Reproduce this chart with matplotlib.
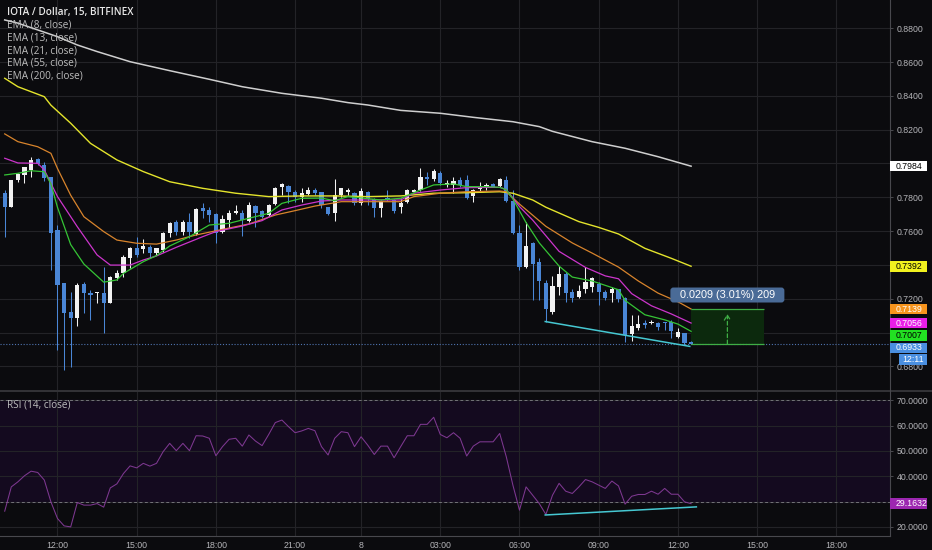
import numpy as np
import matplotlib
matplotlib.use("Agg")
import matplotlib.pyplot as plt
from matplotlib.patches import Rectangle, FancyBboxPatch
from matplotlib.lines import Line2D
from matplotlib.transforms import IdentityTransform

plt.rcParams['font.family'] = ['Liberation Sans', 'DejaVu Sans']

# ---------------- data ----------------
opens = [0.7824, 0.7744, 0.7902, 0.7932, 0.7962, 0.8027, 0.7991, 0.7922, 0.7607, 0.7291,
         0.7123, 0.7084, 0.7286, 0.7232, 0.7232, 0.7232, 0.7177, 0.7321, 0.7354, 0.7439,
         0.7502, 0.7494, 0.7508, 0.7469, 0.7488, 0.7587, 0.7656, 0.7597, 0.7656, 0.7583,
         0.7735, 0.7725, 0.7701, 0.7597, 0.7666, 0.7705, 0.7709, 0.7662, 0.7750, 0.7719,
         0.7695, 0.7758, 0.7859, 0.7867, 0.7833, 0.7804, 0.7818, 0.7843, 0.7833, 0.7744,
         0.7705, 0.7814, 0.7833, 0.7827, 0.7764, 0.7833, 0.7788, 0.7735, 0.7798, 0.7784,
         0.7744, 0.7774, 0.7833, 0.7843, 0.7922, 0.7907, 0.7942, 0.7873, 0.7873, 0.7902,
         0.7902, 0.7810, 0.7847, 0.7853, 0.7877, 0.7867, 0.7902, 0.7780, 0.7587, 0.7390,
         0.7528, 0.7419, 0.7295, 0.7123, 0.7271, 0.7346, 0.7241, 0.7212, 0.7258, 0.7271,
         0.7287, 0.7241, 0.7236, 0.7256, 0.7203, 0.6991, 0.7025, 0.7059, 0.7055, 0.7055,
         0.7065, 0.7065, 0.6975, 0.6999, 0.6946]
highs = [0.7843, 0.7902, 0.7945, 0.7981, 0.8040, 0.8035, 0.8011, 0.7922, 0.7636, 0.7291,
         0.7241, 0.7293, 0.7301, 0.7252, 0.7241, 0.7390, 0.7334, 0.7370, 0.7459, 0.7504,
         0.7567, 0.7551, 0.7518, 0.7502, 0.7597, 0.7656, 0.7666, 0.7666, 0.7705, 0.7735,
         0.7768, 0.7744, 0.7705, 0.7695, 0.7725, 0.7754, 0.7725, 0.7774, 0.7754, 0.7725,
         0.7758, 0.7863, 0.7883, 0.7873, 0.7843, 0.7853, 0.7863, 0.7853, 0.7833, 0.7744,
         0.7907, 0.7857, 0.7853, 0.7833, 0.7853, 0.7837, 0.7794, 0.7784, 0.7843, 0.7790,
         0.7794, 0.7847, 0.7847, 0.7972, 0.7952, 0.7965, 0.7956, 0.7902, 0.7922, 0.7922,
         0.7932, 0.7847, 0.7893, 0.7883, 0.7883, 0.7912, 0.7926, 0.7843, 0.7636, 0.7656,
         0.7537, 0.7439, 0.7311, 0.7334, 0.7394, 0.7360, 0.7260, 0.7281, 0.7390, 0.7330,
         0.7301, 0.7252, 0.7271, 0.7260, 0.7212, 0.7104, 0.7104, 0.7075, 0.7075, 0.7065,
         0.7065, 0.7075, 0.7025, 0.6999, 0.6950]
lows = [0.7567, 0.7744, 0.7890, 0.7886, 0.7922, 0.7991, 0.7898, 0.7370, 0.6897, 0.6778,
        0.6798, 0.7039, 0.7114, 0.7075, 0.7173, 0.6999, 0.7177, 0.7311, 0.7330, 0.7380,
        0.7445, 0.7469, 0.7439, 0.7459, 0.7478, 0.7567, 0.7577, 0.7577, 0.7557, 0.7577,
        0.7676, 0.7656, 0.7531, 0.7587, 0.7617, 0.7700, 0.7571, 0.7656, 0.7626, 0.7676,
        0.7690, 0.7754, 0.7814, 0.7764, 0.7774, 0.7774, 0.7814, 0.7814, 0.7735, 0.7695,
        0.7662, 0.7804, 0.7814, 0.7754, 0.7754, 0.7754, 0.7685, 0.7685, 0.7780, 0.7705,
        0.7705, 0.7768, 0.7830, 0.7839, 0.7873, 0.7898, 0.7873, 0.7859, 0.7824, 0.7863,
        0.7790, 0.7774, 0.7833, 0.7843, 0.7859, 0.7863, 0.7774, 0.7583, 0.7370, 0.7380,
        0.7193, 0.7193, 0.7065, 0.7110, 0.7222, 0.7183, 0.7183, 0.7203, 0.7236, 0.7241,
        0.7163, 0.7193, 0.7183, 0.7183, 0.6946, 0.6952, 0.7015, 0.7025, 0.7051, 0.7015,
        0.7015, 0.6966, 0.6966, 0.6925, 0.6930]
closes = [0.7744, 0.7902, 0.7938, 0.7981, 0.8021, 0.7997, 0.7912, 0.7587, 0.7281, 0.7114,
          0.7084, 0.7281, 0.7232, 0.7222, 0.7238, 0.7173, 0.7330, 0.7354, 0.7445, 0.7502,
          0.7459, 0.7512, 0.7469, 0.7502, 0.7591, 0.7650, 0.7593, 0.7656, 0.7597, 0.7729,
          0.7721, 0.7695, 0.7587, 0.7670, 0.7709, 0.7717, 0.7666, 0.7753, 0.7709, 0.7682,
          0.7754, 0.7857, 0.7877, 0.7830, 0.7804, 0.7827, 0.7843, 0.7824, 0.7754, 0.7701,
          0.7814, 0.7853, 0.7843, 0.7768, 0.7839, 0.7788, 0.7735, 0.7780, 0.7784, 0.7719,
          0.7768, 0.7843, 0.7843, 0.7918, 0.7908, 0.7957, 0.7883, 0.7886, 0.7898, 0.7873,
          0.7794, 0.7843, 0.7867, 0.7873, 0.7863, 0.7907, 0.7780, 0.7587, 0.7390, 0.7514,
          0.7404, 0.7307, 0.7137, 0.7275, 0.7346, 0.7232, 0.7203, 0.7248, 0.7301, 0.7321,
          0.7241, 0.7203, 0.7256, 0.7197, 0.6985, 0.7039, 0.7051, 0.7045, 0.7065, 0.7035,
          0.7055, 0.7011, 0.7005, 0.6936, 0.6933]

ema8_idx = [0, 2, 4, 6, 7, 8, 10, 12, 15, 17, 18, 21, 23, 25, 28, 31, 34, 37, 40, 42,
            45, 48, 50, 52, 57, 60, 63, 65, 68, 70, 73, 75, 76, 77, 79, 81, 84, 86, 89, 93,
            94, 97, 100, 102, 104]
ema8_val = [0.7932, 0.7942, 0.7957, 0.7951, 0.7880, 0.7740, 0.7520, 0.7405, 0.7298, 0.7311,
            0.7350, 0.7419, 0.7455, 0.7512, 0.7567, 0.7636, 0.7646, 0.7676, 0.7705, 0.7764,
            0.7794, 0.7795, 0.7780, 0.7804, 0.7784, 0.7794, 0.7843, 0.7873, 0.7879, 0.7863,
            0.7863, 0.7859, 0.7845, 0.7790, 0.7650, 0.7530, 0.7393, 0.7328, 0.7305, 0.7253,
            0.7190, 0.7105, 0.7075, 0.7050, 0.7007]
ema13_idx = [0, 2, 5, 6, 8, 11, 14, 16, 19, 21, 23, 26, 30, 32, 36, 39, 42, 45, 48, 51,
             55, 60, 62, 66, 70, 75, 76, 78, 80, 84, 88, 91, 93, 95, 98, 101, 104]
ema13_val = [0.8031, 0.8003, 0.8001, 0.7962, 0.7804, 0.7626, 0.7459, 0.7399, 0.7399, 0.7429,
             0.7453, 0.7504, 0.7567, 0.7597, 0.7630, 0.7662, 0.7725, 0.7754, 0.7778, 0.7784,
             0.7784, 0.7784, 0.7824, 0.7843, 0.7857, 0.7859, 0.7845, 0.7745, 0.7665, 0.7480,
             0.7385, 0.7335, 0.7318, 0.7230, 0.7158, 0.7110, 0.7056]
ema21_idx = [0, 2, 5, 7, 8, 10, 12, 15, 17, 20, 23, 26, 29, 33, 37, 41, 44, 47, 51, 55,
             60, 62, 66, 70, 75, 76, 78, 82, 86, 89, 93, 96, 99, 102, 104]
ema21_val = [0.8175, 0.8129, 0.8099, 0.8060, 0.7970, 0.7812, 0.7685, 0.7597, 0.7547, 0.7528,
             0.7523, 0.7547, 0.7577, 0.7610, 0.7642, 0.7695, 0.7721, 0.7748, 0.7774, 0.7774,
             0.7774, 0.7804, 0.7824, 0.7833, 0.7837, 0.7833, 0.7760, 0.7628, 0.7530, 0.7470,
             0.7387, 0.7305, 0.7233, 0.7182, 0.7139]
ema55_idx = [0, 2, 6, 7, 10, 13, 17, 21, 25, 30, 35, 40, 45, 50, 55, 60, 65, 70, 75, 77,
             80, 82, 87, 90, 93, 97, 101, 104]
ema55_val = [0.8504, 0.8454, 0.8395, 0.8345, 0.8238, 0.8119, 0.8021, 0.7952, 0.7892, 0.7853,
             0.7824, 0.7804, 0.7808, 0.7808, 0.7804, 0.7808, 0.7824, 0.7827, 0.7833, 0.7824,
             0.7784, 0.7741, 0.7656, 0.7622, 0.7583, 0.7498, 0.7439, 0.7392]
ema200_idx = [0, 2, 5, 8, 11, 14, 19, 25, 31, 36, 42, 48, 52, 55, 60, 66, 71, 77, 81, 83,
              89, 94, 99, 104]
ema200_val = [0.8849, 0.8830, 0.8790, 0.8750, 0.8701, 0.8662, 0.8602, 0.8549, 0.8498, 0.8454,
              0.8415, 0.8386, 0.8360, 0.8346, 0.8314, 0.8297, 0.8273, 0.8247, 0.8218, 0.8190,
              0.8129, 0.8090, 0.8040, 0.7984]

rsi = [26.2, 35.8, 37.8, 40.2, 42.0, 41.5, 38.5, 29.9, 23.3, 20.4,
       20.0, 29.6, 28.6, 28.6, 29.2, 27.8, 35.4, 37.0, 41.1, 44.1,
       43.3, 45.1, 44.0, 45.1, 49.7, 53.0, 50.1, 53.0, 50.1, 56.0,
       55.9, 55.0, 48.1, 51.7, 54.6, 55.0, 51.9, 56.3, 53.9, 52.1,
       56.5, 61.2, 62.2, 59.6, 57.2, 57.9, 58.9, 58.0, 51.7, 48.4,
       55.0, 57.6, 57.2, 51.7, 55.6, 52.3, 48.6, 51.9, 51.9, 47.3,
       51.7, 56.0, 56.0, 60.5, 60.5, 63.3, 56.5, 55.2, 57.2, 55.0,
       48.0, 51.9, 53.6, 53.6, 53.6, 56.9, 47.7, 36.5, 26.6, 35.8,
       32.5, 29.2, 24.9, 32.5, 37.2, 34.1, 33.2, 35.8, 38.7, 37.8,
       36.5, 35.2, 38.1, 36.2, 29.0, 32.1, 32.8, 32.8, 34.1, 32.9,
       35.2, 32.9, 32.9, 29.9, 29.1632]

tick_idx = [8, 20, 32, 44, 54, 66, 78, 90, 102, 114, 126]
tick_labels = ['12:00', '15:00', '18:00', '21:00', '8', '03:00', '06:00', '09:00',
               '12:00', '15:00', '18:00']
price_ticks = [0.68, 0.70, 0.72, 0.74, 0.76, 0.78, 0.80, 0.82, 0.84, 0.86, 0.88]
rsi_ticks = [20, 30, 40, 50, 60, 70]

price_trend_x = [81.9, 103.8]
price_trend_y = [0.7065, 0.6918]
rsi_trend_x = [81.9, 104.8]
rsi_trend_y = [24.7, 27.9]

measure_bars = [104, 115]
measure_prices = [0.6933, 0.7142]
countdown = '12:11'

title = 'IOTA / Dollar, 15, BITFINEX'
legend_items = ['EMA (8, close)', 'EMA (13, close)', 'EMA (21, close)',
                'EMA (55, close)', 'EMA (200, close)']

# ---------------- style ----------------
W, H, DPI = 932, 550, 100
BG = '#0b0b0e'
GRID = '#232327'
AXC = '#b4b4b8'
UP = '#f2f2f2'
DOWN = '#4a86d6'
C8, C13, C21, C55, C200 = '#35c435', '#cc35cc', '#d8842c', '#e4e42c', '#cfcfcf'
LEG_FONT = ['Open Sans', 'DejaVu Sans']

fig = plt.figure(figsize=(W / DPI, H / DPI), dpi=DPI, facecolor=BG)
ax = fig.add_axes([0, 1 - 390 / H, 890 / W, 390 / H])
ax2 = fig.add_axes([0, 1 - 536 / H, 890 / W, (536 - 392) / H])

for a in (ax, ax2):
    a.set_facecolor(BG)
    for s in a.spines.values():
        s.set_visible(False)
    a.set_xlim(-0.712, 134.14)
    a.set_xticks(tick_idx)
    a.grid(True, color=GRID, lw=0.8)
    a.set_axisbelow(True)
    a.yaxis.tick_right()
    a.tick_params(axis='y', length=2.5, width=0.6, color='#55555a',
                  labelcolor=AXC, labelsize=6.3, pad=2.5)

ax.tick_params(axis='x', length=0, labelbottom=False)
ax2.tick_params(axis='x', length=0, labelcolor=AXC, labelsize=6.3, pad=3.5)
ax2.set_xticklabels(tick_labels)

ax.set_ylim(0.6660, 0.8967)
ax2.set_ylim(16.40, 73.28)
ax.set_yticks(price_ticks)
ax2.set_yticks(rsi_ticks)

ident = IdentityTransform()


def disp(a, xv, yv):
    return a.transData.transform((xv, yv))


# candles
o = np.array(opens); h = np.array(highs); l = np.array(lows); c = np.array(closes)
x = np.arange(len(c))
cols = np.where(c >= o, UP, DOWN)
ax.vlines(x, l, h, colors=cols, lw=0.75, zorder=3)
ax.bar(x, np.maximum(np.abs(c - o), 0.0005), bottom=np.minimum(o, c), width=0.62,
       color=cols, linewidth=0, zorder=4)

# EMAs
ax.plot(ema200_idx, ema200_val, color=C200, lw=1.1, zorder=5)
ax.plot(ema55_idx, ema55_val, color=C55, lw=1.0, zorder=5)
ax.plot(ema21_idx, ema21_val, color=C21, lw=0.9, zorder=5)
ax.plot(ema13_idx, ema13_val, color=C13, lw=0.9, zorder=5)
ax.plot(ema8_idx, ema8_val, color=C8, lw=0.9, zorder=5)

# current price line
ax.axhline(c[-1], color='#4f74b0', lw=0.8, ls=(0, (1, 1.6)), zorder=2)

# trend line
ax.plot(price_trend_x, price_trend_y, color='#46c8d2', lw=1.1, zorder=6)

# measure box
mx0, mx1 = measure_bars
mlo, mhi = measure_prices
ax.add_patch(Rectangle((mx0, mlo), mx1 - mx0, mhi - mlo, fc='#0c290d', ec='none', zorder=1.5))
ax.hlines([mlo, mhi], mx0, mx1, color='#3fae45', lw=0.9, zorder=6)
cxm = (mx0 + mx1) / 2
ax.annotate('', xy=(cxm, mhi), xytext=(cxm, mlo),
            arrowprops=dict(arrowstyle='->,head_length=0.35,head_width=0.22', color='#3fae45',
                            lw=0.9, ls=(0, (3, 2)), shrinkA=0, shrinkB=4), zorder=6)

dx, dy = disp(ax, cxm, mhi)
diff = mhi - mlo
mlabel = f'{diff:.4f} ({diff / mlo * 100:.2f}%) {round(diff * 10000)}'
fig.add_artist(FancyBboxPatch((dx - 57, dy + 6), 114, 15,
                              boxstyle='round,pad=0,rounding_size=3', transform=ident,
                              fc='#4a6b97', ec='none', zorder=5))
fig.text(dx, dy + 13.5, mlabel, transform=ident, ha='center', va='center',
         color='white', fontsize=7.8, zorder=6)

# right-axis value boxes (stacked so they do not overlap)
items = [(ema200_val[-1], '#ffffff', '#000000'), (ema55_val[-1], '#f2f21f', '#000000'),
         (ema21_val[-1], '#f7941d', '#ffffff'), (ema13_val[-1], '#e81ee8', '#ffffff'),
         (ema8_val[-1], '#22e022', '#000000'), (closes[-1], '#4a8fe0', '#ffffff')]
ax_right = 890
box_ys = []
prev = None
for v, fc, tc in sorted(items, key=lambda t: -t[0]):
    yd = disp(ax, 0, v)[1]
    if prev is not None and yd > prev - 12.4:
        yd = prev - 12.4
    prev = yd
    box_ys.append(yd)
    fig.add_artist(Rectangle((ax_right, yd - 5.3), 37, 10.6, transform=ident,
                             fc=fc, ec='none', zorder=5))
    fig.text(ax_right + 6, yd, f'{v:.4f}', transform=ident, ha='left', va='center',
             color=tc, fontsize=6.3, zorder=6)
yc = box_ys[-1] - 11.6
fig.add_artist(Rectangle((899, yc - 5.3), 28, 10.6, transform=ident,
                         fc='#4a8fe0', ec='none', zorder=5))
fig.text(913, yc, countdown, transform=ident, ha='center', va='center',
         color='#ffffff', fontsize=6.3, zorder=6)

# price tick labels (labels hidden behind a value box are left blank)
plabels = []
for v in price_ticks:
    ty = disp(ax, 0, v)[1]
    hidden = any(abs(ty - b) < 7.5 for b in box_ys)
    plabels.append('' if hidden else f'{v:.4f}')
ax.set_yticklabels(plabels)

# RSI pane
ax2.axhspan(30, 70, color='#140a1f', zorder=0.3)
for lv in (30, 70):
    ax2.axhline(lv, color='#737378', lw=0.7, ls=(0, (3, 2.5)), zorder=1)
ax2.plot(x, rsi, color='#7e3891', lw=0.75, zorder=3)
ax2.plot(rsi_trend_x, rsi_trend_y, color='#46c8d2', lw=1.1, zorder=4)
ry = disp(ax2, 0, rsi[-1])[1]
fig.add_artist(Rectangle((ax_right, ry - 5.3), 37, 10.6, transform=ident,
                         fc='#9c27b0', ec='none', zorder=5))
fig.text(ax_right + 6, ry, f'{rsi[-1]:.4f}', transform=ident, ha='left', va='center',
         color='#ffffff', fontsize=6.3, zorder=6)
rlabels = []
for v in rsi_ticks:
    ty = disp(ax2, 0, v)[1]
    rlabels.append('' if abs(ty - ry) < 7.5 else f'{v:.4f}')
ax2.set_yticklabels(rlabels)

# pane frame lines
fig.add_artist(Line2D([0, 1], [1 - 391 / H] * 2, transform=fig.transFigure,
                      color='#3a3a3f', lw=1.2))
fig.add_artist(Line2D([890 / W] * 2, [1 - 536 / H, 1], transform=fig.transFigure,
                      color='#48484d', lw=0.8))
fig.add_artist(Line2D([0, 890 / W], [1 - 536 / H] * 2, transform=fig.transFigure,
                      color='#48484d', lw=0.8))

# legends
fig.text(6.7 / W, 1 - 12.7 / H, title, ha='left', va='center', fontsize=7.2,
         family=LEG_FONT, weight='semibold', color='#e8e8e8')
for k, t in enumerate(legend_items):
    fig.text(6.7 / W, 1 - (25.2 + 12.75 * k) / H, t, ha='left', va='center', fontsize=7.2,
             family=LEG_FONT, color='#bdbdbd')
fig.text(6.7 / W, 1 - 405.3 / H, 'RSI (14, close)', ha='left', va='center', fontsize=7.2,
         family=LEG_FONT, color='#bdbdbd')

fig.savefig('out.png', dpi=DPI, facecolor=BG)
